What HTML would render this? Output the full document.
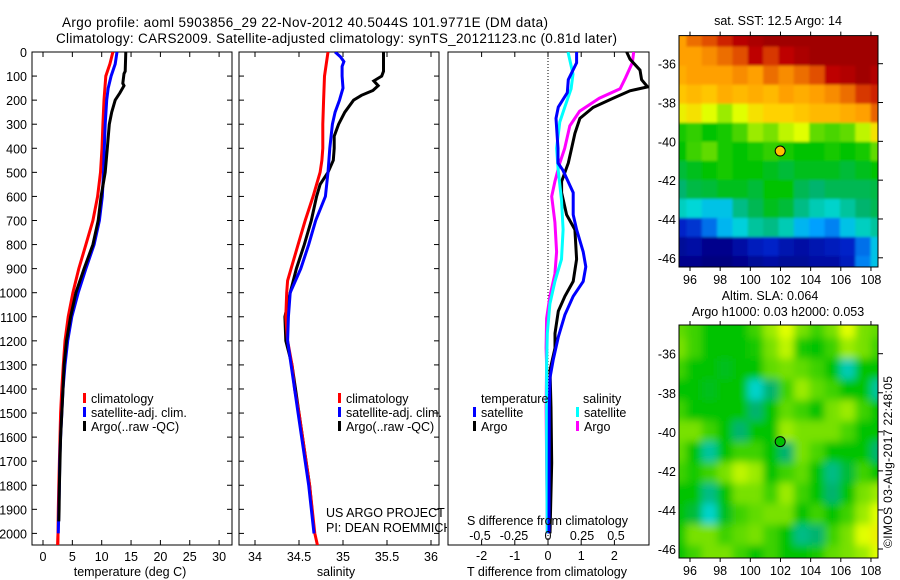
<!DOCTYPE html>
<html><head><meta charset="utf-8"><style>
html,body{margin:0;padding:0;background:#fff;}
svg{display:block;font-family:"Liberation Sans",sans-serif;}
</style></head><body>
<svg id="fig" width="900" height="580" viewBox="0 0 900 580" xmlns="http://www.w3.org/2000/svg">
<defs>
<clipPath id="c1"><rect x="32" y="52" width="200" height="493"/></clipPath>
<clipPath id="c2"><rect x="239" y="52" width="200" height="493"/></clipPath>
<clipPath id="c3"><rect x="448" y="52" width="201" height="493"/></clipPath>
<clipPath id="ctext"><rect x="0" y="0" width="447" height="580"/></clipPath>
<filter id="blur" x="0" y="0" width="100%" height="100%"><feGaussianBlur stdDeviation="4"/></filter>
<filter id="blur1" x="0" y="0" width="100%" height="100%"><feGaussianBlur stdDeviation="1.2"/></filter>
<clipPath id="cm1"><rect x="679" y="35.6" width="199" height="231.4"/></clipPath>
<clipPath id="cm2"><rect x="679" y="325" width="199" height="233"/></clipPath>
</defs>
<text x="62" y="27" font-size="13.5" textLength="486">Argo profile: aoml 5903856_29 22-Nov-2012 40.5044S 101.9771E (DM data)</text>
<text x="56" y="43" font-size="13.5" textLength="561">Climatology: CARS2009. Satellite-adjusted climatology: synTS_20121123.nc (0.81d later)</text>
</svg>
<script>
// ---- profile data (depth in m) ----
const tempClimDepths=[0,50,100,200,300,400,500,600,700,800,900,1000,1100,1200,1300,1400,1500,1600,1700,1800,1900,2000,2050];
const tempClim=[11.9,11.4,10.7,10.4,10.2,10.05,9.8,9.3,8.5,7.3,6.1,5.1,4.3,3.75,3.45,3.2,3.0,2.9,2.8,2.7,2.6,2.55,2.5];
const tempSatDepths=[0,50,100,150,200,300,400,500,600,700,800,900,1000,1100,1200,1300,1400,1500,1600,1700,1800,1900,2000];
const tempSat=[12.6,12.3,11.6,11.1,10.85,10.6,10.45,10.3,10.1,9.6,8.7,7.3,6.0,4.9,4.2,3.75,3.4,3.2,3.0,2.85,2.8,2.7,2.6];
const tempArgoDepths=[0,80,90,130,140,170,200,250,300,400,500,600,700,800,900,1000,1100,1200,1300,1400,1500,1600,1700,1800,1900,1950];
const tempArgo=[14.1,14.0,13.8,13.6,13.8,13.1,12.3,11.7,11.3,10.95,10.6,9.9,9.4,8.5,7.0,5.6,4.7,4.0,3.6,3.4,3.2,3.0,2.9,2.8,2.75,2.7];
const salClimDepths=[0,100,200,300,400,450,500,600,700,800,900,950,1000,1100,1200,1300,1400,1500,1600,1700,1800,1900,2000,2050];
const salClim=[34.83,34.79,34.78,34.77,34.77,34.76,34.74,34.66,34.57,34.49,34.41,34.37,34.36,34.35,34.37,34.42,34.45,34.5,34.54,34.58,34.62,34.65,34.68,34.71];
const salSatDepths=[0,20,40,60,100,150,200,250,300,400,500,600,700,800,900,1000,1100,1200,1300,1500,1800,2000];
const salSat=[34.91,34.97,35.01,34.99,34.99,35.0,34.96,34.91,34.88,34.85,34.83,34.8,34.69,34.61,34.52,34.4,34.38,34.37,34.41,34.49,34.61,34.67];
const salArgoDepths=[0,80,100,120,140,160,180,200,250,300,350,400,450,500,550,600,700,800,900,1000,1100,1200,1300,1500,1800,1950];
const salArgo=[35.46,35.46,35.44,35.35,35.40,35.34,35.21,35.12,35.02,34.95,34.90,34.90,34.89,34.83,34.74,34.70,34.64,34.56,34.47,34.40,34.34,34.35,34.42,34.5,34.62,34.66];
const dTSatDepths=[0,45,115,169,229,276,400,461,491,584,676,738,830,892,953,1015,1092,1184,1277,1353,1476,2000];
const dTSat=[0.86,0.86,0.61,0.58,0.31,0.24,0.30,0.30,0.45,0.76,0.76,0.86,1.06,1.14,1.06,0.76,0.51,0.31,0.16,0.06,0.04,0.03];
const dTArgoDepths=[0,30,75,115,145,161,192,230,276,338,400,461,538,584,676,738,861,953,1015,1077,1169,1230,1322,1476,1707,2000];
const dTArgo=[2.37,2.47,2.77,2.82,3.0,2.47,1.96,1.36,0.96,0.81,0.71,0.61,0.41,0.41,0.56,0.81,0.86,0.76,0.51,0.31,0.21,0.21,0.06,0.09,0.11,0.06];
const dSSatDepths=[0,92,153,230,291,400,491,615,738,861,953,1046,1169,1300,1600,2000];
const dSSat=[0.147,0.184,0.17,0.123,0.087,0.063,0.075,0.099,0.111,0.099,0.051,0.014,-0.005,-0.01,-0.01,-0.005];
const dSArgoDepths=[0,45,107,153,192,246,307,400,461,538,600,707,830,922,1015,1107,1230,1300,1476,2000];
const dSArgo=[0.63,0.62,0.57,0.53,0.377,0.232,0.16,0.123,0.087,0.051,0.027,0.051,0.063,0.051,0.014,-0.01,-0.014,-0.01,-0.014,-0.005];
// ---- ticks ----
const depthTicks=[0,100,200,300,400,500,600,700,800,900,1000,1100,1200,1300,1400,1500,1600,1700,1800,1900,2000];
const tempTicks=[0,5,10,15,20,25,30];
const salTicks=[34,34.5,35,35.5,36];
const dTTicks=[-2,-1,0,1,2];
const dSTicks=[-0.5,-0.25,0,0.25,0.5];
const latTicks=[-36,-38,-40,-42,-44,-46];
const lonTicks=[96,98,100,102,104,106,108];
// ---- map grids (colormap index 0..1), rows north to south ----
const sstGrid=[
[.80,.85,.88,.92,.96,.98,1,1,1,1,1,1,1,1],
[.80,.80,.82,.85,.88,.95,.9,.95,.98,1,1,1,1,1],
[.78,.80,.80,.80,.82,.80,.85,.82,.85,.88,.95,.97,1,.97],
[.74,.76,.74,.78,.76,.78,.76,.80,.78,.80,.82,.85,.9,.92],
[.68,.70,.66,.62,.66,.70,.72,.72,.74,.76,.76,.78,.8,.86],
[.52,.54,.50,.52,.56,.62,.60,.64,.66,.58,.56,.58,.64,.70],
[.50,.55,.58,.52,.50,.52,.54,.52,.50,.50,.52,.50,.52,.58],
[.46,.48,.50,.52,.50,.50,.48,.46,.48,.48,.48,.46,.48,.50],
[.42,.45,.46,.48,.48,.46,.50,.50,.44,.42,.44,.44,.44,.45],
[.35,.33,.30,.30,.40,.44,.48,.46,.40,.36,.34,.38,.42,.44],
[.12,.14,.20,.28,.32,.38,.40,.36,.28,.25,.22,.30,.35,.38],
[.04,.06,.02,.02,.06,.10,.12,.08,.06,.08,.10,.12,.20,.30],
[.02,.02,0,0,.02,.04,.06,.04,.04,.06,.06,.10,.22,.30]];
const slaGrid=[
[.58,.55,.5,.5,.5,.55,.62,.66,.6,.55,.6,.66,.6,.58],
[.6,.55,.5,.5,.5,.52,.6,.64,.52,.5,.55,.62,.6,.55],
[.55,.5,.5,.48,.5,.5,.58,.6,.58,.55,.5,.36,.5,.5],
[.5,.5,.48,.5,.5,.34,.42,.55,.62,.58,.55,.5,.5,.38],
[.55,.5,.5,.5,.5,.42,.5,.58,.55,.5,.6,.62,.55,.5],
[.6,.6,.55,.5,.42,.5,.5,.62,.6,.6,.6,.56,.5,.5],
[.58,.5,.38,.5,.55,.55,.5,.42,.6,.56,.5,.5,.5,.42],
[.55,.52,.55,.6,.64,.62,.5,.55,.58,.5,.4,.46,.55,.5],
[.5,.5,.4,.5,.6,.6,.55,.62,.55,.5,.42,.5,.6,.62],
[.5,.46,.34,.48,.55,.58,.6,.6,.5,.55,.5,.55,.62,.66],
[.52,.6,.6,.55,.58,.6,.55,.5,.4,.42,.55,.6,.66,.68],
[.5,.55,.6,.6,.55,.5,.55,.5,.5,.52,.58,.6,.62,.66]];
const argoLon=[101.98];
const argoLat=[-40.5];

const NS='http://www.w3.org/2000/svg';
const svg=document.getElementById('fig');
function mk(tag,attrs,parent){const e=document.createElementNS(NS,tag);for(const k in attrs)e.setAttribute(k,attrs[k]);(parent||svg).appendChild(e);return e;}
function txt(x,y,s,size,anchor,parent){const t=mk('text',{x:x,y:y,'font-size':size,'text-anchor':anchor||'start'},parent);t.textContent=s;return t;}
const Y=d=>52+d*0.2407;
const X1=t=>43+t*5.87;
const X2=s=>255+(s-34)*88;
const X3T=v=>548+v*33.2;
const X3S=v=>548+v*136;

function frame(x0,x1,name,ticks){
  const r=mk('rect',{x:x0,y:52,width:x1-x0,height:493,fill:'none',stroke:'#000','stroke-width':1});
  
  
  if(ticks)for(const d of depthTicks){mk('line',{x1:x0,y1:Y(d),x2:x0+5,y2:Y(d),stroke:'#000'});mk('line',{x1:x1,y1:Y(d),x2:x1-5,y2:Y(d),stroke:'#000'});}
}
function xticks(vals,fx,labelY,name){
  const g=mk('g',{});
  
  
  for(const v of vals){const x=fx(v);mk('line',{x1:x,y1:52,x2:x,y2:57,stroke:'#000'},g);mk('line',{x1:x,y1:545,x2:x,y2:540,stroke:'#000'},g);
    if(labelY)txt(x,labelY,String(v),12.5,'middle',g);}
}
function series(depths,vals,fx,color,clip,name,w){
  const pts=depths.map((d,i)=>fx(vals[i]).toFixed(1)+','+Y(d).toFixed(1)).join(' ');
  const p=mk('polyline',{points:pts,fill:'none',stroke:color,'stroke-width':w||3,'stroke-linejoin':'miter','clip-path':'url(#'+clip+')'});
  
  
}
function legendEntry(x,y,color,label,name){
  const g=mk('g',{'clip-path':'url(#ctext)'});
  
  
  mk('rect',{x:x,y:y-10,width:3,height:10,fill:color},g);
  txt(x+8,y,label,12.5,'start',g);
}

// depth labels
const dl=mk('g',{});


for(const d of depthTicks){txt(27,Y(d)+5,String(d),12.5,'end',dl);}

// panel 1
frame(32,232,'temperature-panel',true);
xticks(tempTicks,X1,561,'temperature-axis');
txt(130,576,'temperature (deg C)',12.5,'middle');
series(tempClimDepths,tempClim,X1,'#ff0000','c1','temp-climatology-line');
series(tempSatDepths,tempSat,X1,'#0000ff','c1','temp-satellite-line');
series(tempArgoDepths,tempArgo,X1,'#000000','c1','temp-argo-line');
series(tempClimDepths.slice(-2),tempClim.slice(-2),X1,'#ff0000','c1','temp-climatology-bottom');
legendEntry(83,403,'#ff0000','climatology','legend-climatology-temp');
legendEntry(83,417,'#0000ff','satellite-adj. clim.','legend-satellite-temp');
legendEntry(83,431,'#000000','Argo(..raw -QC)','legend-argo-temp');

// panel 2
frame(239,439,'salinity-panel',true);
xticks(salTicks,X2,561,'salinity-axis');
txt(336,576,'salinity',12.5,'middle');
series(salArgoDepths,salArgo,X2,'#000000','c2','sal-argo-line');
series(salClimDepths,salClim,X2,'#ff0000','c2','sal-climatology-line');
series(salSatDepths,salSat,X2,'#0000ff','c2','sal-satellite-line');
legendEntry(338,403,'#ff0000','climatology','legend-climatology-sal');
legendEntry(338,417,'#0000ff','satellite-adj. clim.','legend-satellite-sal');
legendEntry(338,431,'#000000','Argo(..raw -QC)','legend-argo-sal');
const credit=mk('g',{'clip-path':'url(#ctext)'});


txt(326,517,'US ARGO PROJECT',12.5,'start',credit);
txt(326,532,'PI: DEAN ROEMMICH',12.5,'start',credit);

// panel 3
const z=mk('line',{x1:548,y1:52,x2:548,y2:545,stroke:'#000','stroke-dasharray':'1,2'});


frame(448,649,'difference-panel',false);
xticks(dTTicks,X3T,560,'t-difference-axis');
txt(547,576,'T difference from climatology',12.5,'middle');
series(dSArgoDepths,dSArgo,X3S,'#ff00ff','c3','s-diff-argo-line');
series(dTArgoDepths,dTArgo,X3T,'#000000','c3','t-diff-argo-line');
series(dSSatDepths,dSSat,X3S,'#00ffff','c3','s-diff-satellite-line');
series(dTSatDepths,dTSat,X3T,'#0000ff','c3','t-diff-satellite-line');
const sl=mk('g',{});


txt(467,525,'S difference from climatology',12.5,'start',sl);
for(const v of dSTicks){txt(X3S(v),540,String(v),12.5,'middle',sl);}
txt(481,403,'temperature',12.5,'start');
txt(583,403,'salinity',12.5,'start');
function legendEntry3(x,y,color,label,name){
  const g=mk('g',{});
  
  
  mk('rect',{x:x,y:y-10,width:3,height:10,fill:color},g);
  txt(x+8,y,label,12.5,'start',g);
}
legendEntry3(473,417,'#0000ff','satellite','legend-t-satellite');
legendEntry3(473,431,'#000000','Argo','legend-t-argo');
legendEntry3(576,417,'#00ffff','satellite','legend-s-satellite');
legendEntry3(576,431,'#ff00ff','Argo','legend-s-argo');

// colormap
const cStops=[[0,[0,0,128]],[.12,[0,32,200]],[.25,[0,160,255]],[.33,[0,215,215]],[.42,[0,180,110]],[.5,[0,195,0]],[.6,[120,225,0]],[.66,[225,255,0]],[.72,[255,210,0]],[.8,[255,160,0]],[.88,[225,80,0]],[.95,[190,0,0]],[1,[160,0,0]]];
function cmap(v){for(let i=1;i<cStops.length;i++){if(v<=cStops[i][0]){const a=cStops[i-1],b=cStops[i],t=(v-a[0])/(b[0]-a[0]);const c=a[1].map((x,k)=>Math.round(x+(b[1][k]-x)*t));return 'rgb('+c+')';}}return 'rgb(160,0,0)';}

function drawMap(grid,x0,y0,w,h,lat36y,lat46y,name,filterId,clipId){
  const gw=mk('g',{'clip-path':'url(#'+clipId+')'});
  const g=mk('g',{filter:'url(#'+filterId+')'},gw);
  
  
  const rows=grid.length,cols=grid[0].length;
  const pad=8;
  const cw=(w+2*pad)/cols,ch=(h+2*pad)/rows;
  for(let r=0;r<rows;r++)for(let c=0;c<cols;c++){
    const cell=mk('rect',{x:(x0-pad+c*cw).toFixed(2),y:(y0-pad+r*ch).toFixed(2),width:(cw+0.6).toFixed(2),height:(ch+0.6).toFixed(2),fill:cmap(grid[r][c])},g);
    
    
  }
  mk('rect',{x:x0,y:y0,width:w,height:h,fill:'none',stroke:'#000'});
  const LX=lon=>690+(lon-96)*15.08;
  const LY=lat=>lat36y+(-36-lat)*(lat46y-lat36y)/10;
  const ax=mk('g',{});
  
  
  for(const la of latTicks){mk('line',{x1:x0+w,y1:LY(la),x2:x0+w+5,y2:LY(la),stroke:'#000'},ax);txt(x0-3,LY(la)+5,String(la),12.5,'end',ax);}
  for(const lo of lonTicks){mk('line',{x1:LX(lo),y1:y0+h,x2:LX(lo),y2:y0+h+4,stroke:'#000'},ax);mk('line',{x1:LX(lo),y1:y0,x2:LX(lo),y2:y0-4,stroke:'#000'},ax);txt(LX(lo),y0+h+17,String(lo),12.5,'middle',ax);}
  return {LX,LY};
}
const m1=drawMap(sstGrid,679,35.6,199,231.4,63.7,257.8,'sst-map','blur1','cm1');
const m2=drawMap(slaGrid,679,325,199,233,353.7,549,'sla-map','blur','cm2');
const p1=mk('circle',{cx:m1.LX(argoLon[0]),cy:m1.LY(argoLat[0]),r:5,fill:'#ffc000',stroke:'#000','stroke-width':1});


const p2=mk('circle',{cx:m2.LX(argoLon[0]),cy:m2.LY(argoLat[0]),r:5,fill:'#00c000',stroke:'#000','stroke-width':1});


txt(778,25,'sat. SST: 12.5 Argo: 14',12.5,'middle');
txt(770,300,'Altim. SLA: 0.064',12.5,'middle');
txt(778,316,'Argo h1000: 0.03 h2000: 0.053',12.5,'middle');
const cp=txt(0,0,'©IMOS 03-Aug-2017 22:48:05',12,'start');
cp.setAttribute('transform','translate(892,548) rotate(-90)');
cp.setAttribute('textLength','172');


</script>
</body></html>
